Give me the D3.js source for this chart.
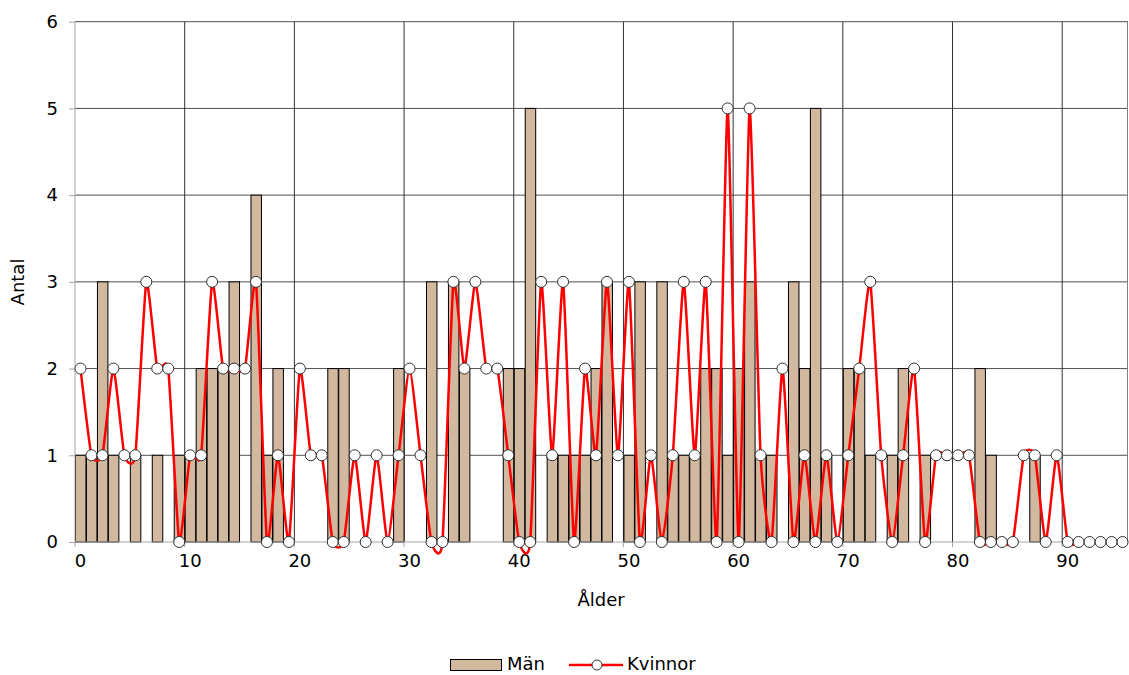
<!DOCTYPE html>
<html>
<head>
<meta charset="utf-8">
<script src="https://cdn.jsdelivr.net/npm/d3@7"></script>
<style>
  html, body { margin: 0; padding: 0; background: #ffffff; }
  svg { display: block; }
  text { font-family: "DejaVu Sans", sans-serif; fill: #000; }
</style>
</head>
<body>
<script>
// ---- data ----
const ages = d3.range(0, 96);
const men = [
  1, 1, 3, 1, 0, 1, 0, 1, 0, 1,
  1, 2, 2, 2, 3, 0, 4, 1, 2, 0,
  0, 0, 0, 2, 2, 0, 0, 0, 0, 2,
  0, 0, 3, 0, 3, 2, 0, 0, 0, 2,
  2, 5, 0, 1, 1, 1, 1, 2, 3, 0,
  1, 3, 0, 3, 1, 1, 1, 2, 2, 1,
  2, 3, 1, 1, 0, 3, 2, 5, 1, 0,
  2, 2, 1, 0, 1, 2, 0, 1, 0, 0,
  0, 0, 2, 1, 0, 0, 0, 1, 0, 0,
  0, 0, 0, 0, 0, 0
];
const women = [
  2, 1, 1, 2, 1, 1, 3, 2, 2, 0,
  1, 1, 3, 2, 2, 2, 3, 0, 1, 0,
  2, 1, 1, 0, 0, 1, 0, 1, 0, 1,
  2, 1, 0, 0, 3, 2, 3, 2, 2, 1,
  0, 0, 3, 1, 3, 0, 2, 1, 3, 1,
  3, 0, 1, 0, 1, 3, 1, 3, 0, 5,
  0, 5, 1, 0, 2, 0, 1, 0, 1, 0,
  1, 2, 3, 1, 0, 1, 2, 0, 1, 1,
  1, 1, 0, 0, 0, 0, 1, 1, 0, 1,
  0, 0, 0, 0, 0, 0
];
const xTickLabels = [0, 10, 20, 30, 40, 50, 60, 70, 80, 90];
const yTicks = [0, 1, 2, 3, 4, 5, 6];
const seriesNames = ["Män", "Kvinnor"];
const xTitle = "Ålder";
const yTitle = "Antal";

// ---- layout ----
const W = 1129, H = 675;
const pLeft = 75, pRight = 1128, pTop = 21.7, pBottom = 542;

const svg = d3.select("body").append("svg").attr("width", W).attr("height", H);

const x = d3.scaleBand().domain(ages).range([pLeft, pRight]).padding(0);
const y = d3.scaleLinear().domain([0, 6]).range([pBottom, pTop]);
const step = x.step();

// horizontal gridlines
svg.append("g").selectAll("line").data(yTicks.filter(d => d > 0)).join("line")
  .attr("x1", pLeft).attr("x2", pRight)
  .attr("y1", d => y(d)).attr("y2", d => y(d))
  .attr("stroke", "#505050").attr("stroke-width", 1);

// vertical gridlines at category boundaries of labeled ages
svg.append("g").selectAll("line").data(xTickLabels.filter(d => d > 0).concat(["end"])).join("line")
  .attr("x1", d => d === "end" ? pRight - 0.5 : x(d))
  .attr("x2", d => d === "end" ? pRight - 0.5 : x(d))
  .attr("y1", pTop).attr("y2", pBottom)
  .attr("stroke", d => d === "end" ? "#808080" : "#303030").attr("stroke-width", 1);

// bars (Män)
svg.append("g").selectAll("rect").data(ages.filter(a => men[a] > 0)).join("rect")
  .attr("x", a => x(a) + 0.5)
  .attr("y", a => y(men[a]))
  .attr("width", step - 0.5)
  .attr("height", a => y(0) - y(men[a]))
  .attr("fill", "#D3B8A0")
  .attr("stroke", "#000")
  .attr("stroke-width", 1);

// axes
const xAxis = d3.axisBottom(x)
  .tickValues(xTickLabels)
  .tickSize(0)
  .tickPadding(12);
const gx = svg.append("g").attr("transform", `translate(0,${pBottom})`).call(xAxis);
gx.select(".domain").attr("stroke", "#a6a6a6").attr("d", `M${pLeft},0H${pRight}`);
gx.selectAll("text").attr("font-size", 18).attr("font-family", "DejaVu Sans, sans-serif");
// tick marks at category boundaries
svg.append("g").selectAll("line").data(xTickLabels).join("line")
  .attr("x1", d => x(d)).attr("x2", d => x(d))
  .attr("y1", pBottom).attr("y2", pBottom + 5)
  .attr("stroke", "#a6a6a6");

const yAxis = d3.axisLeft(y).tickValues(yTicks).tickSize(6).tickPadding(11).tickFormat(d3.format("d"));
const gy = svg.append("g").attr("transform", `translate(${pLeft},0)`).call(yAxis);
gy.select(".domain").attr("stroke", "#a6a6a6").attr("d", `M0,${pTop}V${pBottom}`);
gy.selectAll(".tick line").attr("stroke", "#a6a6a6");
gy.selectAll("text").attr("font-size", 18).attr("font-family", "DejaVu Sans, sans-serif");

// line (Kvinnor)
const line = d3.line()
  .x((d, i) => x(i) + step / 2)
  .y(d => y(d))
  .curve(d3.curveCardinal.tension(0.5));
svg.append("path").datum(women)
  .attr("d", line)
  .attr("fill", "none")
  .attr("stroke", "#FF0000")
  .attr("stroke-width", 2.5);

svg.append("g").selectAll("circle").data(women).join("circle")
  .attr("cx", (d, i) => x(i) + step / 2)
  .attr("cy", d => y(d))
  .attr("r", 5.5)
  .attr("fill", "#fff")
  .attr("stroke", "#303030")
  .attr("stroke-width", 1);

// axis titles
svg.append("text").attr("x", 601).attr("y", 601).attr("text-anchor", "middle")
  .attr("dominant-baseline", "middle").attr("font-size", 18).text(xTitle);
svg.append("text").attr("transform", "translate(19,282) rotate(-90)").attr("text-anchor", "middle")
  .attr("dominant-baseline", "middle").attr("font-size", 18).text(yTitle);

// legend
const lg = svg.append("g");
lg.append("rect").attr("x", 450.5).attr("y", 659.5).attr("width", 51).attr("height", 11)
  .attr("fill", "#D3B8A0").attr("stroke", "#000");
lg.append("text").attr("x", 507).attr("y", 665).attr("dominant-baseline", "middle")
  .attr("font-size", 18).text(seriesNames[0]);
lg.append("line").attr("x1", 569).attr("x2", 623).attr("y1", 665).attr("y2", 665)
  .attr("stroke", "#FF0000").attr("stroke-width", 2.5);
lg.append("circle").attr("cx", 597).attr("cy", 665).attr("r", 5)
  .attr("fill", "#fff").attr("stroke", "#303030");
lg.append("text").attr("x", 627).attr("y", 665).attr("dominant-baseline", "middle")
  .attr("font-size", 18).text(seriesNames[1]);
</script>
</body>
</html>
